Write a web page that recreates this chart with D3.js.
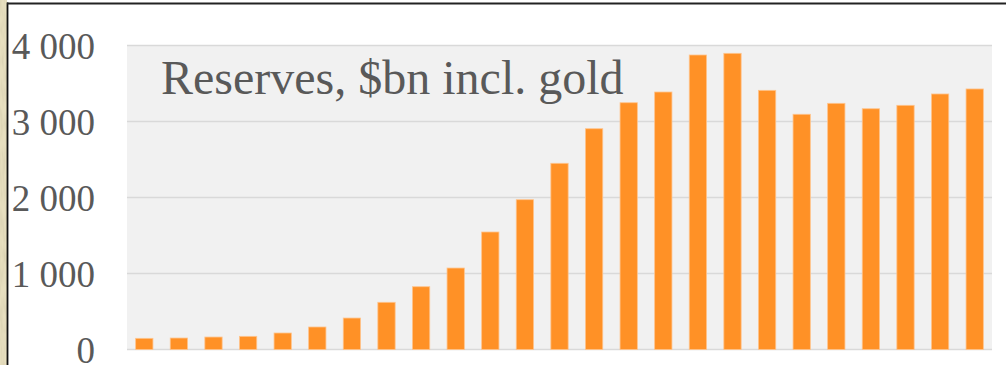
<!DOCTYPE html>
<html>
<head>
<meta charset="utf-8">
<script src="https://cdn.jsdelivr.net/npm/d3@7/dist/d3.min.js"></script>
<style>
  html, body { margin: 0; padding: 0; background: #fff; }
  svg { display: block; }
</style>
</head>
<body>
<svg id="chart" width="1006" height="365"></svg>
<script>
// Foreign reserves including gold, $bn, one bar per year
const years = ["1993","1994","1995","1996","1997","1998","1999","2000","2001","2002","2003","2004",
               "2005","2006","2007","2008","2009","2010","2011","2012","2013","2014","2015","2016","2017"];
const reserves = [147, 151, 164, 173, 217, 296, 414, 621, 826, 1072, 1546, 1971,
                  2450, 2905, 3247, 3388, 3875, 3897, 3410, 3095, 3239, 3168, 3213, 3362, 3428];
const yTicks = [0, 1000, 2000, 3000, 4000];
const title = "Reserves, $bn incl. gold";

const svg = d3.select("#chart");
const W = 1006, H = 365;
const plot = { left: 127, right: 992, top: 45.5, bottom: 349.5 };

// parchment strip and frame on the left/top edge
const defs = svg.append("defs");
const f = defs.append("filter").attr("id", "paper").attr("x", 0).attr("y", 0).attr("width", 1).attr("height", 1);
f.append("feTurbulence").attr("type", "fractalNoise").attr("baseFrequency", "0.35 0.06").attr("numOctaves", 3).attr("seed", 4).attr("result", "n");
f.append("feColorMatrix").attr("in", "n").attr("type", "matrix")
  .attr("values", "0 0 0 0 0.62  0 0 0 0 0.56  0 0 0 0 0.38  0.9 0 0 0 -0.3").attr("result", "spots");
f.append("feComposite").attr("in", "spots").attr("in2", "SourceGraphic").attr("operator", "atop");

svg.append("rect").attr("x", 0).attr("y", 0).attr("width", 7).attr("height", H)
  .attr("fill", "#e7dfbf").attr("filter", "url(#paper)");
svg.append("line").attr("x1", 7.5).attr("x2", 7.5).attr("y1", 2.5).attr("y2", H)
  .attr("stroke", "#111").attr("stroke-width", 1.8);
svg.append("line").attr("x1", 7).attr("x2", W).attr("y1", 3.5).attr("y2", 3.5)
  .attr("stroke", "#222").attr("stroke-width", 1.8);

// scales
const x = d3.scaleBand().domain(years).range([plot.left, plot.right]).paddingInner(0.5).paddingOuter(0.25);
const y = d3.scaleLinear().domain([0, 4000]).range([plot.bottom, plot.top]);

// plot background
svg.append("rect")
  .attr("x", plot.left).attr("y", plot.top)
  .attr("width", plot.right - plot.left).attr("height", plot.bottom - plot.top)
  .attr("fill", "#f1f1f1");

// gridlines
svg.append("g").selectAll("line").data(yTicks).join("line")
  .attr("x1", plot.left).attr("x2", plot.right)
  .attr("y1", d => y(d)).attr("y2", d => y(d))
  .attr("stroke", "#d9d9d9").attr("stroke-width", 1.6);

// y axis labels
const yAxis = d3.axisLeft(y).tickValues(yTicks).tickSize(0).tickPadding(0)
  .tickFormat(d => d3.format(",")(d).replace(/,/g, " "));
const gy = svg.append("g").attr("transform", "translate(95,0)").call(yAxis);
gy.select(".domain").remove();
gy.selectAll("text")
  .attr("font-family", "'Liberation Serif', 'Times New Roman', serif")
  .attr("font-size", 37)
  .attr("fill", "#595959")
  .attr("dy", "0.34em");

// bars
svg.append("g").selectAll("rect").data(years).join("rect")
  .attr("x", d => x(d))
  .attr("width", x.bandwidth())
  .attr("y", (d, i) => y(reserves[i]))
  .attr("height", (d, i) => y(0) - y(reserves[i]))
  .attr("fill", "#ff9126")
  .attr("stroke", "#ffc48c")
  .attr("stroke-width", 0.8);

// in-plot title
svg.append("text")
  .attr("x", 161).attr("y", 94)
  .attr("font-family", "'Liberation Serif', 'Times New Roman', serif")
  .attr("font-size", 48)
  .attr("fill", "#595959")
  .text(title);
</script>
</body>
</html>
